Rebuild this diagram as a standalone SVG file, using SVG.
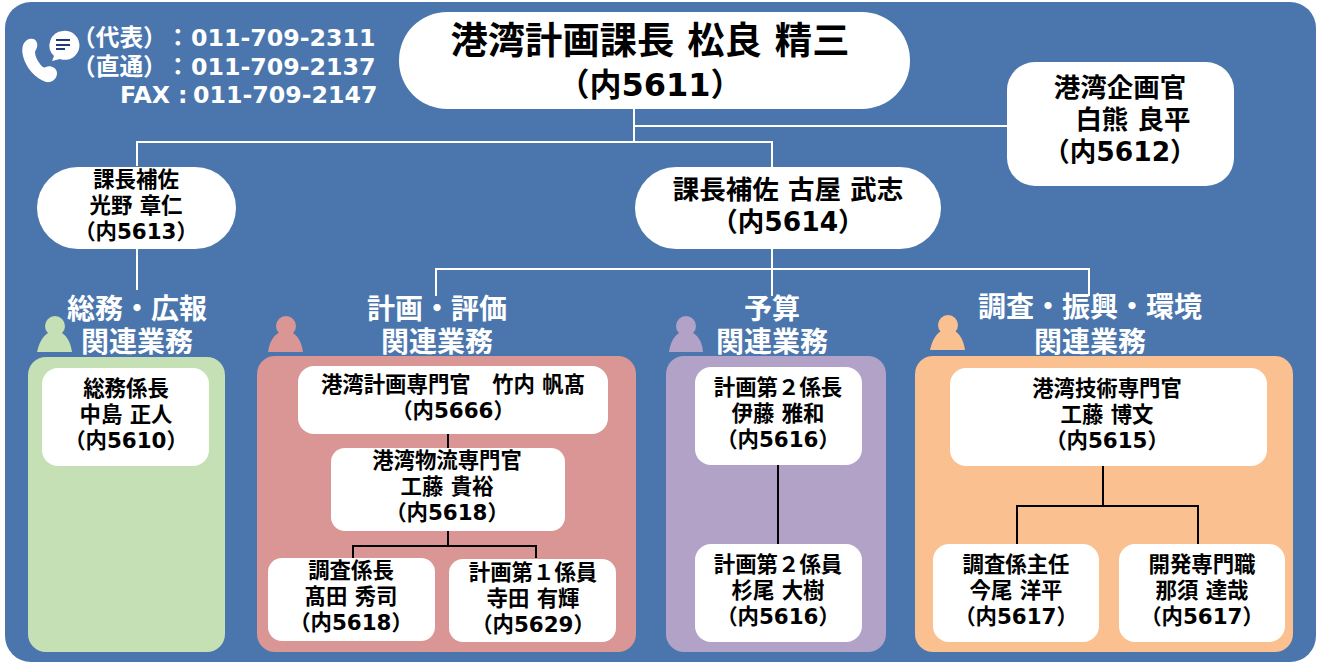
<svg xmlns="http://www.w3.org/2000/svg" width="1319" height="664" viewBox="0 0 1319 664">
<style>
text{font-family:"DejaVu Sans","Noto Sans CJK JP",sans-serif;font-weight:700;text-anchor:middle;fill:#000}
.w{fill:#fff}
.box{fill:#fff}
.c{fill:none;stroke:#fff;stroke-width:2}
.k{fill:none;stroke:#000;stroke-width:2}
.s20{font-size:21.400px}.s26{font-size:28px}.s25{font-size:26.500px}.s36{font-size:37.300px}
.t{font-size:23.700px;text-anchor:start}
</style>
<rect x="5" y="2" width="1311" height="660" rx="26" fill="#4a76ad"/>
<g id="connectors">
<path class="c" d="M634 108V142M137 166V142H772V168M634 126H1008M137 248V290M772 248V296M436 296V269H1089V296"/>
</g>
<g id="phone">
<path d="M29 39C23 41 21 48 23 56C26 68 35 78 46 82C52 83 57 79 57 73C57 68 50 65 46 67C44 68 42 67 40 64C37 60 35 56 35 52C36 49 38 47 37 43C36 39 33 38 29 39Z" fill="#fff"/>
<path d="M63 31A14.500 14.500 0 1 1 60 59L52 61L54 56A14.500 14.500 0 0 1 63 31Z" fill="#fff"/>
<path d="M56 40H70M56 45H70M56 49H65" stroke="#1f3a78" stroke-width="2" fill="none"/>
</g>
<g id="contacts">
<text class="w t" x="72" y="46">（代表）</text><text class="w t" x="166" y="46">：</text><text class="w t" x="191" y="46">011-709-2311</text>
<text class="w t" x="72" y="75">（直通）</text><text class="w t" x="166" y="75">：</text><text class="w t" x="191" y="75">011-709-2137</text>
<text class="w t" x="120" y="103">FAX</text><text class="w t" x="178" y="103">:</text><text class="w t" x="193" y="103">011-709-2147</text>
</g>
<g id="n-kacho"><rect class="box" x="399" y="12" width="511" height="97" rx="48"/>
<text class="s36" x="650" y="54">港湾計画課長 松良 精三</text><text x="650" y="96" style="font-size:32px">（内5611）</text></g>
<g id="n-kikaku"><rect class="box" x="1007" y="62" width="227" height="124" rx="28"/>
<text class="s25" x="1120" y="97">港湾企画官</text><text class="s25" x="1133" y="129">白熊 良平</text><text class="s25" x="1120" y="161">（内5612）</text></g>
<g id="n-hosa1"><rect class="box" x="37" y="167" width="199" height="82" rx="41"/>
<text class="s20" x="136" y="187">課長補佐</text><text class="s20" x="136" y="213">光野 章仁</text><text class="s20" x="136" y="239">（内5613）</text></g>
<g id="n-hosa2"><rect class="box" x="635" y="167" width="306" height="82" rx="41"/>
<text class="s25" x="788" y="199">課長補佐 古屋 武志</text><text class="s25" x="788" y="231">（内5614）</text></g>
<g id="g-soumu">
<circle cx="55" cy="326" r="10" fill="#c5e0b4"/><path d="M37 352C40 338 47 331 55 331C63 331 70 338 72 352Z" fill="#c5e0b4"/>
<text class="w s26" x="137" y="319">総務・広報</text><text class="w s26" x="137" y="352">関連業務</text>
<rect x="28" y="357" width="197" height="295" rx="18" fill="#c5e0b4"/>
<rect class="box" x="42" y="368" width="167" height="98" rx="16"/>
<text class="s20" x="126" y="396">総務係長</text><text class="s20" x="126" y="422">中島 正人</text><text class="s20" x="126" y="448">（内5610）</text>
</g>
<g id="g-keikaku">
<circle cx="286" cy="326" r="10" fill="#d99694"/><path d="M268 352C270 338 277 331 286 331C294 331 301 338 303 352Z" fill="#d99694"/>
<text class="w s26" x="437" y="319">計画・評価</text><text class="w s26" x="437" y="352">関連業務</text>
<rect x="257" y="356" width="379" height="296" rx="18" fill="#d99694"/>
<path class="k" d="M448 433V448M448 530V546M353 558V546H536V558"/>
<rect class="box" x="298" y="366" width="310" height="68" rx="16"/>
<text class="s20" x="453" y="392">港湾計画専門官　竹内 帆髙</text><text class="s20" x="453" y="418">（内5666）</text>
<rect class="box" x="331" y="448" width="234" height="83" rx="14"/>
<text class="s20" x="447" y="468">港湾物流専門官</text><text class="s20" x="447" y="494">工藤 貴裕</text><text class="s20" x="447" y="520">（内5618）</text>
<rect class="box" x="268" y="558" width="167" height="83" rx="14"/>
<text class="s20" x="351" y="578">調査係長</text><text class="s20" x="351" y="604">髙田 秀司</text><text class="s20" x="351" y="630">（内5618）</text>
<rect class="box" x="449" y="559" width="167" height="83" rx="14"/>
<text class="s20" x="533" y="580">計画第１係員</text><text class="s20" x="533" y="606">寺田 有輝</text><text class="s20" x="533" y="632">（内5629）</text>
</g>
<g id="g-yosan">
<circle cx="686" cy="326" r="10" fill="#b3a2c7"/><path d="M669 352C671 338 678 331 686 331C694 331 702 338 703 352Z" fill="#b3a2c7"/>
<text class="w s26" x="772" y="319">予算</text><text class="w s26" x="772" y="352">関連業務</text>
<rect x="666" y="356" width="220" height="296" rx="18" fill="#b3a2c7"/>
<path class="k" d="M778 465V545"/>
<rect class="box" x="695" y="367" width="167" height="98" rx="16"/>
<text class="s20" x="778" y="395">計画第２係長</text><text class="s20" x="778" y="421">伊藤 雅和</text><text class="s20" x="778" y="447">（内5616）</text>
<rect class="box" x="695" y="544" width="167" height="98" rx="16"/>
<text class="s20" x="778" y="572">計画第２係員</text><text class="s20" x="778" y="598">杉尾 大樹</text><text class="s20" x="778" y="624">（内5616）</text>
</g>
<g id="g-chosa">
<circle cx="948" cy="325" r="10" fill="#fac090"/><path d="M930 350C933 336 940 329 948 329C956 329 963 336 965 350Z" fill="#fac090"/>
<text class="w s26" x="1090" y="317">調査・振興・環境</text><text class="w s26" x="1090" y="352">関連業務</text>
<rect x="915" y="356" width="378" height="296" rx="18" fill="#fac090"/>
<path class="k" d="M1103 466V506M1017 545V506H1198V545"/>
<rect class="box" x="950" y="368" width="317" height="98" rx="16"/>
<text class="s20" x="1107" y="396">港湾技術専門官</text><text class="s20" x="1107" y="422">工藤 博文</text><text class="s20" x="1107" y="448">（内5615）</text>
<rect class="box" x="933" y="544" width="166" height="98" rx="16"/>
<text class="s20" x="1016" y="572">調査係主任</text><text class="s20" x="1016" y="598">今尾 洋平</text><text class="s20" x="1016" y="624">（内5617）</text>
<rect class="box" x="1119" y="544" width="166" height="98" rx="16"/>
<text class="s20" x="1202" y="572">開発専門職</text><text class="s20" x="1202" y="598">那須 達哉</text><text class="s20" x="1202" y="624">（内5617）</text>
</g>
</svg>
